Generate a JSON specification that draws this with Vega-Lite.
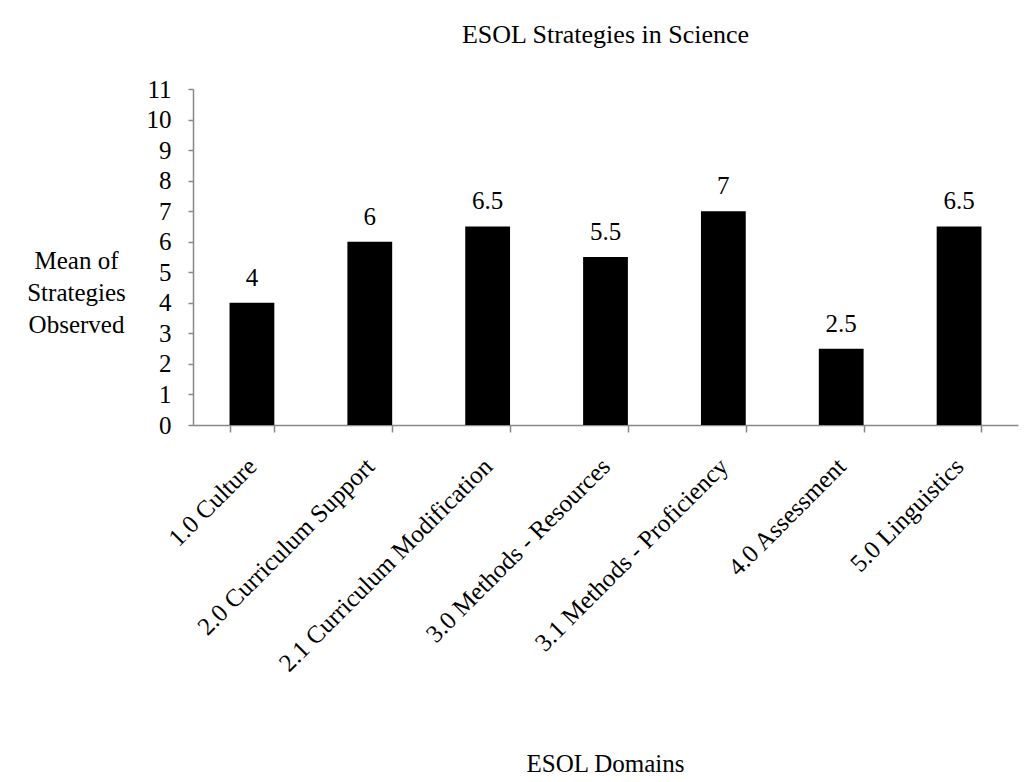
{
  "$schema": "https://vega.github.io/schema/vega-lite/v6.json",
  "width": 825,
  "height": 336,
  "autosize": "none",
  "padding": {"left": 193, "top": 89, "right": 13, "bottom": 357},
  "background": "white",
  "title": {
    "text": "ESOL Strategies in Science",
    "font": "Liberation Serif",
    "fontSize": 26,
    "fontWeight": "normal",
    "color": "black",
    "anchor": "middle",
    "frame": "group",
    "baseline": "alphabetic",
    "offset": 8
  },
  "data": {
    "values": [
      {"domain": "1.0 Culture", "mean": 4},
      {"domain": "2.0 Curriculum Support", "mean": 6},
      {"domain": "2.1 Curriculum Modification", "mean": 6.5},
      {"domain": "3.0 Methods - Resources", "mean": 5.5},
      {"domain": "3.1 Methods - Proficiency", "mean": 7},
      {"domain": "4.0 Assessment", "mean": 2.5},
      {"domain": "5.0 Linguistics", "mean": 6.5}
    ]
  },
  "encoding": {
    "x": {
      "field": "domain",
      "type": "nominal",
      "sort": null,
      "scale": {"paddingInner": 0.62, "paddingOuter": 0.31},
      "axis": {
        "title": "ESOL Domains",
        "titleX": 412,
        "titleY": 346,
        "titleBaseline": "alphabetic",
        "titleAnchor": null,
        "titleAlign": "center",
        "labelAngle": -45,
        "labelAlign": "right",
        "labelBaseline": "middle",
        "labelPadding": 30,
        "tickBand": "extent",
        "tickSize": 7,
        "labelLimit": 500
      }
    },
    "y": {
      "field": "mean",
      "type": "quantitative",
      "scale": {"domain": [0, 11], "nice": false},
      "axis": {
        "values": [0, 1, 2, 3, 4, 5, 6, 7, 8, 9, 10, 11],
        "title": ["Mean of", "Strategies", "Observed"],
        "titleAngle": 0,
        "titleX": -117,
        "titleY": 179,
        "titleAlign": "center",
        "titleBaseline": "alphabetic",
        "titleLineHeight": 32,
        "titleAnchor": null,
        "tickSize": 5,
        "labelPadding": 17,
        "grid": false
      }
    }
  },
  "layer": [
    {"mark": {"type": "bar", "color": "black"}},
    {
      "mark": {"type": "text", "dy": -17, "font": "Liberation Serif", "fontSize": 25, "color": "black", "baseline": "alphabetic"},
      "encoding": {"text": {"field": "mean", "type": "quantitative"}}
    }
  ],
  "config": {
    "view": {"stroke": null},
    "axis": {
      "labelFont": "Liberation Serif",
      "labelFontSize": 25,
      "labelColor": "black",
      "titleFont": "Liberation Serif",
      "titleFontSize": 25,
      "titleFontWeight": "normal",
      "titleColor": "black",
      "domainColor": "#888888",
      "tickColor": "#888888",
      "domainWidth": 1.5,
      "tickWidth": 1.5
    }
  }
}
